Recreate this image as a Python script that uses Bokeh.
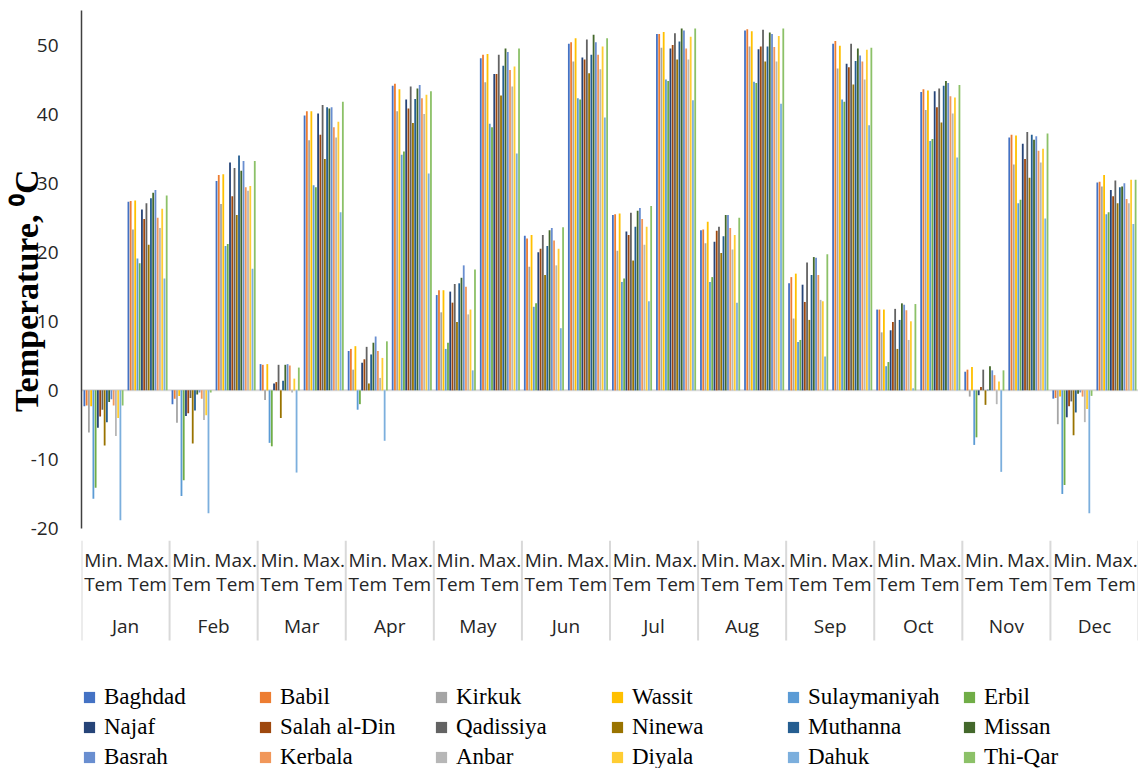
from bokeh.plotting import figure
from bokeh.models import (FactorRange, Range1d, ColumnDataSource, Span, FixedTicker,
                          Legend, LegendItem)
from bokeh.transform import dodge
from bokeh.layouts import column
from bokeh.embed import file_html
from bokeh.resources import INLINE
from bokeh.core.properties import value

months = ["Jan", "Feb", "Mar", "Apr", "May", "Jun", "Jul", "Aug", "Sep", "Oct", "Nov", "Dec"]
kinds = ["Min. Tem", "Max. Tem"]

series = ["Baghdad", "Babil", "Kirkuk", "Wassit", "Sulaymaniyah", "Erbil",
          "Najaf", "Salah al-Din", "Qadissiya", "Ninewa", "Muthanna", "Missan",
          "Basrah", "Kerbala", "Anbar", "Diyala", "Dahuk", "Thi-Qar"]

colors = ["#4472C4", "#ED7D31", "#A5A5A5", "#FFC000", "#5B9BD5", "#70AD47",
          "#264478", "#9E480E", "#636363", "#997300", "#255E91", "#43682B",
          "#698ED0", "#F1975A", "#B7B7B7", "#FFCD33", "#7CAFDD", "#8CC168"]

# values per series: Jan Min, Jan Max, Feb Min, Feb Max, ... Dec Min, Dec Max
baghdad = [-2.3, 27.3, -2.0, 30.3, 3.8, 39.8, 5.7, 44.1, 13.8, 48.1, 22.4, 50.2,
           25.4, 51.6, 23.2, 52.1, 15.5, 50.2, 11.7, 43.2, 2.7, 36.6, -1.2, 30.1]
babil = [-2.2, 27.4, -1.2, 31.2, 3.7, 40.4, 6.0, 44.4, 14.5, 48.6, 22.0, 50.4,
         25.5, 51.6, 23.3, 52.3, 16.4, 50.6, 11.7, 43.6, 3.0, 37.0, -1.1, 30.2]
kirkuk = [-6.1, 23.3, -4.7, 27.0, -1.4, 36.2, 3.0, 40.4, 11.3, 44.6, 17.9, 47.6,
          20.2, 49.6, 21.3, 49.8, 10.4, 46.6, 8.4, 40.6, -0.9, 32.7, -4.9, 29.5]
wassit = [-2.3, 27.5, -0.8, 31.3, 3.8, 40.4, 6.4, 43.6, 14.5, 48.7, 22.5, 51.0,
          25.6, 51.9, 24.4, 52.0, 16.9, 49.9, 11.7, 43.4, 3.4, 36.9, -0.9, 31.2]
sulaymaniyah = [-15.7, 19.1, -15.3, 20.9, -7.6, 29.7, -2.8, 34.1, 6.0, 38.6, 12.1, 42.3,
                15.7, 45.0, 15.7, 44.7, 7.0, 42.1, 3.5, 36.1, -7.9, 27.1, -15.0, 25.5]
erbil = [-14.1, 18.4, -13.0, 21.2, -8.1, 29.4, -2.0, 34.6, 6.9, 38.1, 12.6, 42.1,
         16.2, 44.8, 16.4, 44.5, 7.3, 41.8, 4.1, 36.4, -6.8, 27.6, -13.7, 25.8]
najaf = [-5.4, 26.2, -3.7, 33.0, 1.0, 40.1, 4.0, 42.1, 14.3, 45.8, 20.0, 48.2,
         23.0, 49.5, 21.5, 49.4, 15.3, 47.3, 8.7, 43.3, -0.7, 35.7, -3.9, 29.0]
salah = [-3.8, 24.8, -3.3, 28.1, 1.2, 37.0, 4.5, 40.8, 12.7, 45.8, 20.5, 47.9,
         22.5, 50.0, 23.1, 49.8, 12.8, 46.8, 9.9, 41.0, 0.5, 33.5, -2.3, 28.1]
qadissiya = [-2.8, 27.1, -1.1, 32.2, 3.7, 41.3, 6.3, 44.0, 15.4, 48.6, 22.5, 50.8,
             25.7, 51.7, 23.7, 52.2, 18.5, 50.2, 11.8, 43.7, 3.0, 37.4, -1.6, 30.4]
ninewa = [-8.0, 21.1, -7.7, 25.4, -4.0, 33.5, 1.0, 38.7, 9.9, 42.7, 16.7, 45.9,
          18.8, 47.9, 19.9, 47.6, 10.2, 44.3, 6.0, 38.8, -2.1, 30.8, -6.5, 27.1]
muthanna = [-4.6, 27.8, -2.9, 34.0, 1.4, 41.0, 5.2, 42.2, 15.5, 47.0, 20.9, 48.6,
            23.7, 50.5, 22.3, 49.8, 16.7, 47.7, 10.2, 44.1, 0.1, 37.0, -3.2, 29.4]
missan = [-1.7, 28.6, -0.6, 31.8, 3.7, 40.8, 6.9, 43.7, 16.3, 49.5, 23.2, 51.5,
          26.0, 52.4, 25.4, 51.8, 19.3, 49.5, 12.6, 44.8, 3.5, 36.3, -0.5, 29.5]
basrah = [-1.3, 29.0, -0.3, 33.2, 3.8, 41.0, 7.8, 44.2, 18.1, 49.0, 23.5, 50.4,
          26.4, 52.1, 25.4, 51.6, 19.2, 48.5, 12.4, 44.5, 2.9, 36.8, -0.3, 30.0]
kerbala = [-2.2, 25.0, -1.2, 29.4, 3.6, 38.1, 5.7, 42.3, 15.0, 46.4, 21.7, 48.6,
           24.8, 49.5, 23.5, 49.7, 16.7, 47.6, 11.6, 42.6, 2.2, 34.7, -0.9, 27.7]
anbar = [-6.6, 23.5, -4.3, 28.9, -0.3, 36.6, 1.8, 40.0, 11.0, 44.0, 18.1, 46.5,
         21.1, 47.9, 20.4, 47.6, 13.1, 45.0, 7.3, 40.1, -2.0, 33.0, -4.6, 27.1]
diyala = [-4.0, 26.3, -3.6, 29.6, 1.7, 38.9, 4.7, 42.8, 11.7, 46.9, 20.5, 49.8,
          23.7, 51.2, 22.5, 51.3, 12.9, 49.3, 10.0, 42.4, 1.3, 35.0, -2.7, 30.5]
dahuk = [-18.8, 16.2, -17.8, 17.6, -11.9, 25.8, -7.3, 31.4, 2.9, 34.3, 9.0, 39.5,
         12.9, 42.0, 12.7, 41.5, 4.9, 38.4, 0.3, 33.7, -11.8, 24.9, -17.8, 24.1]
thiqar = [-2.2, 28.2, -0.3, 33.2, 3.3, 41.8, 7.1, 43.3, 17.5, 49.5, 23.6, 51.0,
          26.7, 52.4, 25.0, 52.4, 19.7, 49.6, 12.5, 44.2, 2.9, 37.2, -0.8, 30.5]

values = [baghdad, babil, kirkuk, wassit, sulaymaniyah, erbil, najaf, salah, qadissiya,
          ninewa, muthanna, missan, basrah, kerbala, anbar, diyala, dahuk, thiqar]

y_ticks = [-20, -10, 0, 10, 20, 30, 40, 50]
y_tick_labels = ["-20", "-10", "0", "10", "20", "30", "40", "50"]

factors = [(m, k) for m in months for k in kinds]
data = {"x": factors}
for i, name in enumerate(series):
    data["s%d" % i] = values[i]
src = ColumnDataSource(data)

x_range = FactorRange(factors=factors, factor_padding=0, group_padding=0, range_padding=0)

W = 1138
LB = 81
pA = figure(width=W, height=540, x_range=x_range, y_range=Range1d(-20, 55),
            output_backend="svg", toolbar_location=None, x_axis_location=None,
            min_border_left=LB, min_border_right=0, min_border_top=10, min_border_bottom=12)
pA.outline_line_color = None
pA.grid.visible = False

pA.add_layout(Span(location=0, dimension="width", line_color="#D9D9D9", line_width=2, level="underlay"))

step = 0.0511
bw = 0.041
for i, name in enumerate(series):
    pA.vbar(x=dodge("x", (i - 8.5) * step, range=x_range), top="s%d" % i, width=bw,
            source=src, fill_color=colors[i], line_color=None)

ya = pA.yaxis[0]
ya.ticker = FixedTicker(ticks=y_ticks)
ya.major_label_overrides = dict(zip(y_ticks, y_tick_labels))
ya.major_tick_line_color = None
ya.minor_tick_line_color = None
ya.axis_line_color = "#404040"
ya.axis_line_width = 1.5
ya.major_label_text_font = "Open Sans"
ya.major_label_text_font_size = "19px"
ya.major_label_text_color = "#262626"
ya.major_label_standoff = 17
ya.axis_label = "Temperature, \u2070C\u00a0\u00a0\u00a0\u00a0\u00a0"
ya.axis_label_text_font = "Liberation Serif"
ya.axis_label_text_font_style = "bold"
ya.axis_label_text_font_size = "34px"
ya.axis_label_text_color = "black"
ya.axis_label_standoff = -17

# category label strip + legend
HB = 228
pB = figure(width=W, height=HB, x_range=x_range, y_range=Range1d(HB, 0),
            output_backend="svg", toolbar_location=None,
            x_axis_location=None, y_axis_location=None,
            min_border_left=LB, min_border_right=0, min_border_top=0, min_border_bottom=0)
pB.outline_line_color = None
pB.grid.visible = False

sub_src = ColumnDataSource(dict(x=factors,
                                l1=[k.split()[0] for m, k in factors],
                                l2=[k.split()[1] for m, k in factors]))
lab_font = value("Open Sans")
pB.text(x="x", y=19, text="l1", source=sub_src, text_align="center", text_baseline="middle",
        text_font=lab_font, text_font_size="19px", text_color="#262626")
pB.text(x="x", y=43, text="l2", source=sub_src, text_align="center", text_baseline="middle",
        text_font=lab_font, text_font_size="19px", text_color="#262626")
mon_src = ColumnDataSource(dict(x=months))
pB.text(x="x", y=85, text="x", source=mon_src, text_align="center", text_baseline="middle",
        text_font=lab_font, text_font_size="19px", text_color="#262626")

sep_src = ColumnDataSource(dict(x=[(m, kinds[0]) for m in months]))
pB.segment(x0=dodge("x", -0.5, range=x_range), y0=0, x1=dodge("x", -0.5, range=x_range), y1=100,
           source=sep_src, line_color="#D9D9D9", line_width=2)
end_src = ColumnDataSource(dict(x=[(months[-1], kinds[-1])]))
pB.segment(x0=dodge("x", 0.5, range=x_range), y0=0, x1=dodge("x", 0.5, range=x_range), y1=100,
           source=end_src, line_color="#D9D9D9", line_width=2)

items = []
for i, name in enumerate(series):
    r = pB.scatter(x="x", y="s%d" % i, source=src, marker="square",
                   fill_color=colors[i], line_color=None, visible=False)
    items.append(LegendItem(label=name, renderers=[r]))

legend = Legend(items=items, ncols=6, orientation="horizontal", location=(-6, -3),
                label_text_font="Liberation Serif", label_text_font_size="23px",
                label_text_color="black", glyph_width=28, glyph_height=28,
                label_height=28, label_width=145, label_standoff=1, spacing=2,
                padding=0, margin=0, border_line_color=None, background_fill_alpha=0)
pB.add_layout(legend)

layout = column(pA, pB, spacing=0)
open("out.html", "w").write(file_html(layout, INLINE))
